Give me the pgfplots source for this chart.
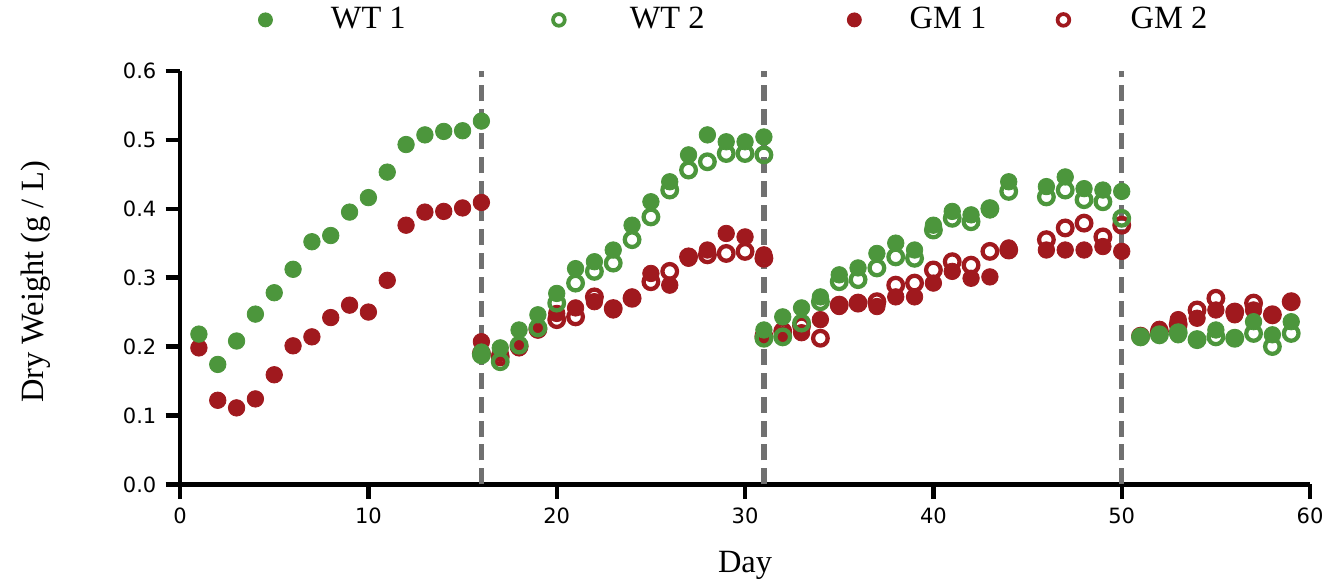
\documentclass[border=0pt]{standalone}
\usepackage{fontspec}
\usepackage{pgfplots}
\pgfplotsset{compat=1.18}
\setmainfont{Liberation Serif}
\newfontfamily\tickfont{DejaVu Sans}

\definecolor{wtgreen}{RGB}{76,150,60}
\definecolor{gmred}{RGB}{160,25,30}
\definecolor{dashgray}{RGB}{112,112,112}

\pgfplotsset{
  filled/.style={only marks, mark=*, mark size=3.1pt, mark options={draw=#1, fill=#1, line width=0.3pt}},
  open/.style={only marks, mark=o, mark size=2.75pt, mark options={draw=#1, line width=1.6pt, fill=none}},
}

\begin{document}
\begin{tikzpicture}
\begin{axis}[
  scale only axis, width=424.8pt, height=155.5pt,
  xmin=0, xmax=60, ymin=0, ymax=0.6,
  clip=false,
  axis lines*=left,
  axis line style={line width=1.6pt},
  tick align=outside,
  tick style={line width=1.6pt, black},
  major tick length=5.4pt,
  xtick={0,10,20,30,40,50,60},
  ytick={0,0.1,0.2,0.3,0.4,0.5,0.6},
  /pgf/number format/assume math mode=true,
  tick label style={font=\tickfont\fontsize{7.9}{9}\selectfont},
  yticklabel style={/pgf/number format/.cd, fixed, fixed zerofill, precision=1},
  xlabel={Day},
  ylabel={Dry Weight (g / L)},
  label style={font=\fontsize{12.2}{14}\selectfont},
  xlabel style={at={(axis description cs:0.5,-0.214)}, anchor=base},
  ylabel style={at={(axis description cs:-0.128,0.49)}, anchor=center},
  legend columns=4,
  legend style={draw=none, fill=none, inner sep=0pt, font=\fontsize{12.2}{14}\selectfont,
    at={(axis description cs:0.0685,1.123)}, anchor=west,
    nodes={inner sep=0pt},
    /tikz/column 1/.append style={column sep=21.8pt},
    /tikz/column 2/.append style={column sep=54.7pt},
    /tikz/column 3/.append style={column sep=23.75pt},
    /tikz/column 4/.append style={column sep=53.5pt},
    /tikz/column 5/.append style={column sep=18.0pt},
    /tikz/column 6/.append style={column sep=26.1pt},
    /tikz/column 7/.append style={column sep=22.35pt}},
]

% stage boundaries
\addplot[forget plot, dashgray, line width=2pt, dash pattern=on 6pt off 3pt] coordinates {(16,0) (16,0.6)};
\addplot[forget plot, dashgray, line width=2pt, dash pattern=on 6pt off 3pt] coordinates {(31,0) (31,0.6)};
\addplot[forget plot, dashgray, line width=2pt, dash pattern=on 6pt off 3pt] coordinates {(50,0) (50,0.6)};

% GM 1
\addplot[forget plot, filled=gmred] coordinates {
 (1,0.198) (2,0.122) (3,0.111) (4,0.124) (5,0.159) (6,0.201) (7,0.214) (8,0.242)
 (9,0.260) (10,0.250) (11,0.296) (12,0.376) (13,0.395) (14,0.396) (15,0.401) (16,0.409)
 (16,0.207) (17,0.190) (18,0.198) (19,0.224) (20,0.248) (21,0.256) (22,0.265) (23,0.253)
 (24,0.272) (25,0.306) (26,0.289) (27,0.328) (28,0.340) (29,0.364) (30,0.359) (31,0.333)
 (31,0.212) (32,0.217) (33,0.220) (34,0.239) (35,0.258) (36,0.263) (37,0.258) (38,0.272)
 (39,0.272) (40,0.292) (41,0.309) (42,0.299) (43,0.301) (44,0.343) (46,0.340) (47,0.340)
 (48,0.340) (49,0.345) (50,0.338)
 (51,0.215) (52,0.225) (53,0.239) (54,0.241) (55,0.253) (56,0.246) (57,0.253) (58,0.246) (59,0.265)
};
% GM 2
\addplot[forget plot, open=gmred] coordinates {
 (16,0.190) (17,0.185) (18,0.200) (19,0.225) (20,0.239) (21,0.243) (22,0.272) (23,0.255)
 (24,0.270) (25,0.294) (26,0.309) (27,0.330) (28,0.333) (29,0.335) (30,0.338) (31,0.328)
 (31,0.215) (32,0.222) (33,0.230) (34,0.212) (35,0.260) (36,0.263) (37,0.265) (38,0.289)
 (39,0.292) (40,0.311) (41,0.323) (42,0.318) (43,0.338) (44,0.340) (46,0.355) (47,0.372)
 (48,0.379) (49,0.359) (50,0.376)
 (51,0.215) (52,0.222) (53,0.232) (54,0.253) (55,0.270) (56,0.250) (57,0.263) (58,0.246) (59,0.265)
};
% WT 1
\addplot[forget plot, filled=wtgreen] coordinates {
 (1,0.218) (2,0.174) (3,0.208) (4,0.247) (5,0.278) (6,0.312) (7,0.352) (8,0.361)
 (9,0.395) (10,0.416) (11,0.453) (12,0.493) (13,0.507) (14,0.512) (15,0.513) (16,0.527)
 (16,0.192) (17,0.198) (18,0.224) (19,0.246) (20,0.277) (21,0.313) (22,0.323) (23,0.340)
 (24,0.376) (25,0.410) (26,0.439) (27,0.478) (28,0.507) (29,0.497) (30,0.497) (31,0.504)
 (31,0.224) (32,0.243) (33,0.256) (34,0.272) (35,0.304) (36,0.314) (37,0.335) (38,0.350)
 (39,0.340) (40,0.376) (41,0.396) (42,0.391) (43,0.398) (44,0.439) (46,0.432) (47,0.446)
 (48,0.429) (49,0.427) (50,0.425)
 (51,0.214) (52,0.217) (53,0.217) (54,0.210) (55,0.224) (56,0.212) (57,0.236) (58,0.217) (59,0.236)
};
% WT 2
\addplot[forget plot, open=wtgreen] coordinates {
 (16,0.188) (17,0.178) (18,0.202) (19,0.227) (20,0.263) (21,0.292) (22,0.309) (23,0.321)
 (24,0.355) (25,0.388) (26,0.427) (27,0.456) (28,0.468) (29,0.480) (30,0.480) (31,0.478)
 (31,0.212) (32,0.214) (33,0.234) (34,0.265) (35,0.294) (36,0.297) (37,0.314) (38,0.330)
 (39,0.328) (40,0.369) (41,0.386) (42,0.381) (43,0.400) (44,0.425) (46,0.417) (47,0.427)
 (48,0.413) (49,0.410) (50,0.386)
 (51,0.214) (52,0.217) (53,0.220) (54,0.210) (55,0.214) (56,0.212) (57,0.219) (58,0.200) (59,0.219)
};

\addlegendimage{legend image code/.code={\fill[wtgreen] (0pt,0pt) circle (2.6pt);}}
\addlegendentry{WT 1}
\addlegendimage{legend image code/.code={\draw[wtgreen, line width=1.4pt] (0pt,0pt) circle (2.2pt);}}
\addlegendentry{WT 2}
\addlegendimage{legend image code/.code={\fill[gmred] (0pt,0pt) circle (2.6pt);}}
\addlegendentry{GM 1}
\addlegendimage{legend image code/.code={\draw[gmred, line width=1.4pt] (0pt,0pt) circle (2.2pt);}}
\addlegendentry{GM 2}
\end{axis}
\pgfresetboundingbox
\path (-67.7pt,-37.4pt) rectangle (432.3pt,182.1pt);
\end{tikzpicture}
\end{document}
